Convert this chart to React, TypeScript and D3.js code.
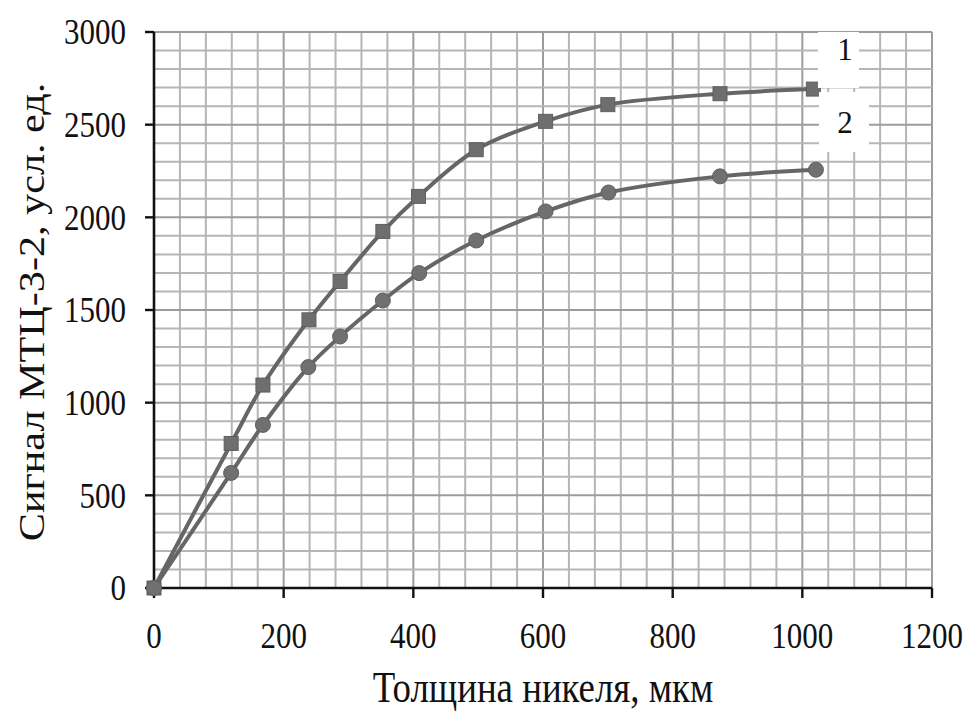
import React from "react";
import * as d3 from "d3";

const thickness1 = [0, 119, 168, 239, 287, 353, 408, 497, 604, 700, 873, 1017];
const signal1 = [0, 780, 1095, 1447, 1654, 1924, 2113, 2365, 2518, 2608, 2667, 2692];
const thickness2 = [0, 119, 168, 238, 287, 353, 409, 497, 604, 701, 873, 1021];
const signal2 = [0, 621, 880, 1192, 1357, 1551, 1699, 1875, 2032, 2134, 2221, 2257];
const xTicks = [0, 200, 400, 600, 800, 1000, 1200];
const yTicks = [0, 500, 1000, 1500, 2000, 2500, 3000];
const seriesLabels = ["1", "2"];
const xTitle = "Толщина никеля, мкм";
const yTitle = "Сигнал МТЦ-3-2, усл. ед.";

const W = 970;
const H = 717;
const L = 154, R = 932, T = 32, B = 588;

export default function App() {
  const x = d3.scaleLinear().domain([0, 1200]).range([L, R]);
  const y = d3.scaleLinear().domain([0, 3000]).range([B, T]);
  const line = d3
    .line<[number, number]>()
    .x((d) => x(d[0]))
    .y((d) => y(d[1]))
    .curve(d3.curveCatmullRom.alpha(0.5));
  const s1 = thickness1.map((t, i) => [t, signal1[i]] as [number, number]);
  const s2 = thickness2.map((t, i) => [t, signal2[i]] as [number, number]);
  const xMinor = d3.range(0, 1201, 40);
  const yMinor = d3.range(0, 3001, 100);
  const font = "'Liberation Serif', 'Times New Roman', serif";
  const lineColor = "#666666";
  return (
    <svg width={W} height={H} style={{ position: "absolute", left: 0, top: 0, background: "#fff" }}>
      <rect width={W} height={H} fill="#fff" />
      {xMinor.map((v) => (
        <line key={"vx" + v} x1={x(v)} x2={x(v)} y1={T} y2={B}
          stroke={v % 200 === 0 ? "#9c9c9c" : "#b6b6b6"} strokeWidth={2} />
      ))}
      {yMinor.map((v) => (
        <line key={"hy" + v} x1={L} x2={R} y1={y(v)} y2={y(v)}
          stroke={v % 500 === 0 ? "#9c9c9c" : "#b6b6b6"} strokeWidth={2} />
      ))}
      {/* axes */}
      <line x1={L} x2={L} y1={T} y2={B} stroke="#111" strokeWidth={2.6} />
      <line x1={L} x2={R} y1={B} y2={B} stroke="#111" strokeWidth={2.6} />
      {yTicks.map((v) => (
        <line key={"yt" + v} x1={L - 9} x2={L} y1={y(v)} y2={y(v)} stroke="#111" strokeWidth={2.4} />
      ))}
      {xTicks.map((v) => (
        <line key={"xt" + v} x1={x(v)} x2={x(v)} y1={B} y2={B + 10} stroke="#111" strokeWidth={2.4} />
      ))}
      {yTicks.map((v) => (
        <text key={"yl" + v} x={126} y={y(v)} dy="0.35em" textAnchor="end"
          fontFamily={font} fontSize={31} fill="#111"
          transform={`translate(126 ${y(v)}) scale(1 1.15) translate(-126 ${-y(v)})`}>{v}</text>
      ))}
      {xTicks.map((v) => (
        <text key={"xl" + v} x={x(v)} y={648} textAnchor="middle"
          fontFamily={font} fontSize={31} fill="#111"
          transform={`translate(${x(v)} 648) scale(1 1.15) translate(${-x(v)} -648)`}>{v}</text>
      ))}
      <text x={(L + R) / 2} y={702} textAnchor="middle" fontFamily={font} fontSize={38} fill="#111"
        transform={`translate(${(L + R) / 2} 702) scale(0.97 1.15) translate(${-(L + R) / 2} -702)`}>{xTitle}</text>
      <text transform="translate(44 312) rotate(-90) scale(1.11 0.95)" textAnchor="middle"
        fontFamily={font} fontSize={38} fill="#111">{yTitle}</text>
      {/* series */}
      <path d={line(s1) || ""} fill="none" stroke={lineColor} strokeWidth={4} />
      <path d={line(s2) || ""} fill="none" stroke={lineColor} strokeWidth={4} />
      {s1.map((d, i) => (
        <rect key={"m1" + i} x={x(d[0]) - 7} y={y(d[1]) - 7} width={14} height={14}
          fill="#6e6e6e" stroke="#5e5e5e" strokeWidth={1} />
      ))}
      {s2.map((d, i) => (
        <circle key={"m2" + i} cx={x(d[0])} cy={y(d[1])} r={7.5} fill="#707070" stroke="#5e5e5e" strokeWidth={1} />
      ))}
      {/* labels */}
      <rect x={818} y={32} width={41} height={56} fill="#fff" />
      <rect x={819} y={92} width={50} height={60} fill="#fff" />
      <text x={845} y={60} textAnchor="middle" fontFamily={font} fontSize={31} fill="#111">{seriesLabels[0]}</text>
      <text x={845} y={133} textAnchor="middle" fontFamily={font} fontSize={31} fill="#111">{seriesLabels[1]}</text>
    </svg>
  );
}
